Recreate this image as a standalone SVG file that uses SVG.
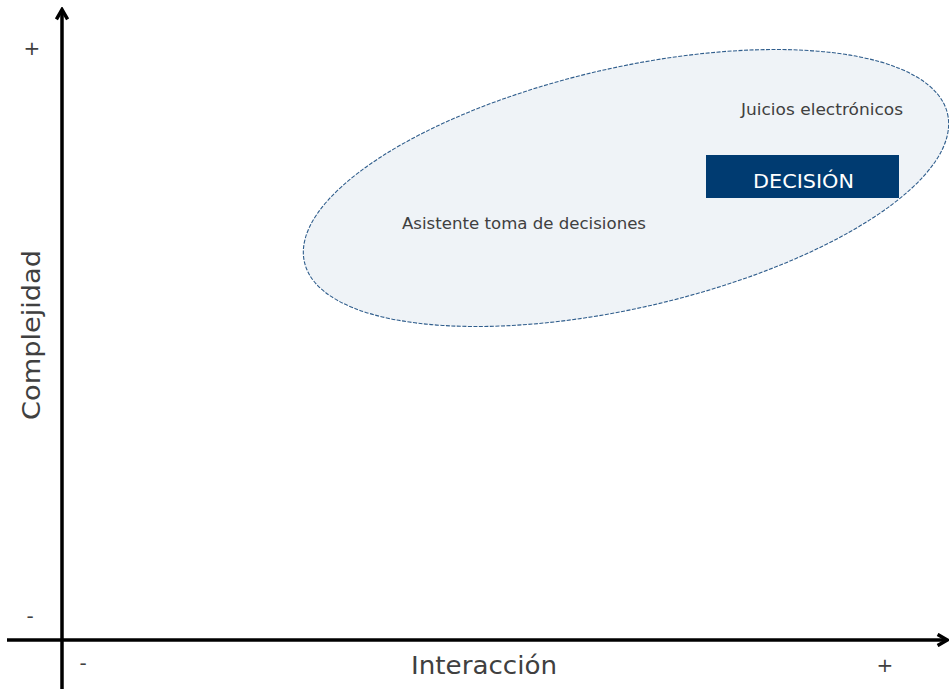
<svg xmlns="http://www.w3.org/2000/svg" width="949" height="689" viewBox="0 0 949 689">
<style>
.lbl{font-family:"DejaVu Sans","Liberation Sans",Arial,sans-serif;fill:#404040}
.sign{font-family:"DejaVu Sans","Liberation Sans",Arial,sans-serif;fill:#404040;font-size:20px;text-anchor:middle}
.axis{stroke:#000;stroke-width:3.5;fill:none}
</style>
<defs>
<marker id="arr" viewBox="0 0 10 10" refX="7" refY="5" markerWidth="4" markerHeight="4" orient="auto" markerUnits="strokeWidth">
<path d="M1,1 L8,5 L1,9" fill="none" stroke="#000" stroke-width="2.5" stroke-linejoin="miter"/>
</marker>
</defs>
<rect width="949" height="689" fill="#fff"/>
<g id="ellipse">
<ellipse cx="626" cy="188" rx="330" ry="120" transform="rotate(-13 626 188)" fill="#eff3f7" stroke="#2f5d8c" stroke-width="1.1" stroke-dasharray="4 1.5"/>
<text class="lbl" x="402" y="229" font-size="15" textLength="244" lengthAdjust="spacingAndGlyphs">Asistente toma de decisiones</text>
<text class="lbl" x="741" y="115" font-size="15" textLength="162" lengthAdjust="spacingAndGlyphs">Juicios electrónicos</text>
</g>
<g id="decision">
<rect x="706" y="155" width="193" height="43" fill="#003b71"/>
<text x="753" y="188" font-family="'DejaVu Sans','Liberation Sans',Arial,sans-serif" font-size="20" fill="#fff" textLength="101" lengthAdjust="spacingAndGlyphs">DECISIÓN</text>
</g>
<g id="connectors">
<line class="axis" x1="62" y1="689" x2="62" y2="11" marker-end="url(#arr)"/>
<line class="axis" x1="7" y1="640" x2="946" y2="640" marker-end="url(#arr)"/>
</g>
<g id="labels">
<text class="sign" x="32" y="55">+</text>
<text class="sign" x="30" y="623">-</text>
<text class="sign" x="83" y="670">-</text>
<text class="sign" x="885" y="672">+</text>
<text class="lbl" x="411" y="674" font-size="24" textLength="146" lengthAdjust="spacingAndGlyphs">Interacción</text>
<text class="lbl" x="0" y="0" font-size="24" textLength="170" lengthAdjust="spacingAndGlyphs" transform="translate(40 420) rotate(-90)">Complejidad</text>
</g>
</svg>
